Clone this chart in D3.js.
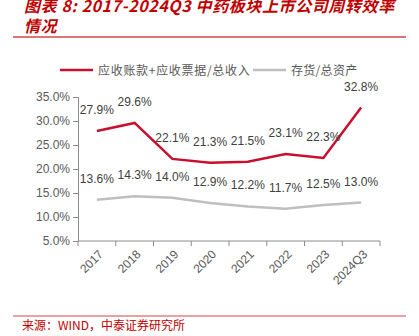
<!DOCTYPE html>
<html><head><meta charset="utf-8">
<script src="https://cdn.jsdelivr.net/npm/d3@7"></script>
<style>body{margin:0;background:#fff}svg{display:block}</style>
</head><body>
<svg id="c" width="419" height="336"></svg>
<script>
const categories = ["2017","2018","2019","2020","2021","2022","2023","2024Q3"];
const receivables = [27.9,29.6,22.1,21.3,21.5,23.1,22.3,32.8];
const inventory = [13.6,14.3,14.0,12.9,12.2,11.7,12.5,13.0];
const yTicks = [5,10,15,20,25,30,35];
const seriesNames = ["应收账款+应收票据/总收入","存货/总资产"];
const titleLines = ["图表 8:  2017-2024Q3 中药板块上市公司周转效率","情况"];
const source = "来源：WIND，中泰证券研究所";

const svg = d3.select("#c");
const cjk = "'Noto Sans CJK SC', sans-serif";
const latin = "'Liberation Sans', Arial, sans-serif";
const red = "#C8102E", gray = "#BFBFBF", axisCol = "#8C8C8C", txt = "#404040";

// title
svg.selectAll("text.title").data(titleLines).join("text")
  .attr("x", 24).attr("y", (d,i)=>12 + i*20)
  .attr("fill", "#C00000").attr("font-family", cjk)
  .attr("font-size", 16).attr("font-weight", "bold").attr("font-style", "italic")
  .attr("letter-spacing", 0.6)
  .text(d=>d);
svg.append("line").attr("x1",13).attr("x2",406).attr("y1",37).attr("y2",37)
  .attr("stroke","#D04848").attr("stroke-width",1.5);

// scales
const x = d3.scaleBand().domain(categories).range([78,380]).padding(0);
const y = d3.scaleLinear().domain([5,35]).range([241,97]);
const cx = d => x(d) + x.bandwidth()/2;

// y axis
const ya = svg.append("g").attr("transform","translate(78,0)")
  .call(d3.axisLeft(y).tickValues(yTicks).tickSize(5).tickFormat(d=>d3.format(".1f")(d)+"%"));
ya.select(".domain").attr("stroke",axisCol);
ya.selectAll(".tick line").attr("stroke",axisCol);
ya.selectAll(".tick text").attr("fill","#595959").attr("font-family",latin).attr("font-size",12).attr("x",-8);

// x axis
const xa = svg.append("g").attr("transform","translate(0,241)")
  .call(d3.axisBottom(x).tickSize(0).tickFormat(""));
xa.select(".domain").attr("stroke",axisCol).attr("d","M78,0H380");
const edges = categories.map(d=>x(d)).concat([x(categories[categories.length-1])+x.bandwidth()]);
xa.selectAll("line.edge").data(edges).join("line").attr("class","edge")
  .attr("x1",d=>d).attr("x2",d=>d).attr("y1",0).attr("y2",5).attr("stroke",axisCol);
svg.selectAll("text.xl").data(categories).join("text").attr("class","xl")
  .attr("transform",d=>`translate(${cx(d)+4},252) rotate(-45)`)
  .attr("text-anchor","end").attr("dy","0.35em")
  .attr("fill","#595959").attr("font-family",latin).attr("font-size",12)
  .text(d=>d);

// lines
const line = d3.line().x((d,i)=>cx(categories[i])).y(d=>y(d));
svg.append("path").datum(inventory).attr("d",line).attr("fill","none")
  .attr("stroke",gray).attr("stroke-width",2.5);
svg.append("path").datum(receivables).attr("d",line).attr("fill","none")
  .attr("stroke",red).attr("stroke-width",2.5);

// data labels
[receivables, inventory].forEach(s=>{
  svg.append("g").selectAll("text").data(s).join("text")
    .attr("x",(d,i)=>cx(categories[i])).attr("y",d=>y(d)-17)
    .attr("text-anchor","middle").attr("fill",txt)
    .attr("font-family",latin).attr("font-size",12)
    .text(d=>d3.format(".1f")(d)+"%");
});

// legend
const leg = [{c:red,x:60,ls:0.7},{c:gray,x:253,ls:0.3}];
leg.forEach((l,i)=>{
  svg.append("line").attr("x1",l.x).attr("x2",l.x+33).attr("y1",70).attr("y2",70)
    .attr("stroke",l.c).attr("stroke-width",2.5);
  svg.append("text").attr("x",l.x+38).attr("y",74.5).attr("fill","#595959")
    .attr("font-family",cjk).attr("font-size",12).attr("letter-spacing",l.ls).text(seriesNames[i]);
});

// footer
svg.append("line").attr("x1",13).attr("x2",406).attr("y1",316).attr("y2",316)
  .attr("stroke","#D04848").attr("stroke-width",1.2);
svg.append("text").attr("x",22).attr("y",330).attr("fill","#C00000")
  .attr("font-family",cjk).attr("font-size",12).text(source);
</script>
</body></html>
